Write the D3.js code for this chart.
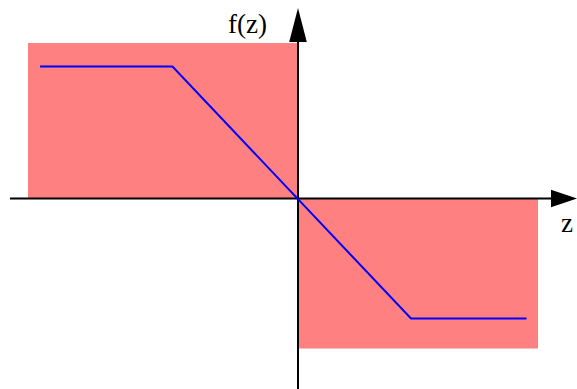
<!DOCTYPE html>
<html>
<head>
<meta charset="utf-8">
<script src="https://cdn.jsdelivr.net/npm/d3@7"></script>
<style>
  html, body { margin: 0; padding: 0; background: #fff; }
  svg { display: block; }
</style>
</head>
<body>
<svg id="chart" width="577" height="389"></svg>
<script>
// Saturating linear function f(z) and its clipping regions
const zKnots = [-25.8, -12.55, 11.3, 22.85];
const fKnots = [13.2, 13.2, -12.0, -12.0];

// Shaded quadrant boxes: [z0, z1, f0, f1]
const boxes = [
  [-27.0, 0, 0, 15.55],
  [0, 24.0, -15.0, 0]
];

// Axis extents and labels
const zAxisExtent = [-28.8, 27.9];
const fAxisExtent = [-19.05, 19.05];
const axisLabels = ["z", "f(z)"];

const width = 577, height = 389;
const svg = d3.select("#chart");

const x = d3.scaleLinear().domain([-28.8, 28.0]).range([10, 578]);
const y = d3.scaleLinear().domain([-19.05, 19.05]).range([389, 8]);

// boxes
svg.selectAll("rect.box")
  .data(boxes)
  .join("rect")
  .attr("class", "box")
  .attr("x", d => x(d[0]))
  .attr("y", d => y(d[3]))
  .attr("width", d => x(d[1]) - x(d[0]))
  .attr("height", d => y(d[2]) - y(d[3]))
  .attr("fill", "#ff8080");

// axes
const arrowLen = 26, arrowHalf = 8.8;
const x0 = x(0), y0 = y(0);
const zTip = x(zAxisExtent[1]);
const fTip = y(fAxisExtent[1]);

svg.append("line")
  .attr("x1", x(zAxisExtent[0])).attr("x2", zTip - arrowLen + 2)
  .attr("y1", y0).attr("y2", y0)
  .attr("stroke", "#000").attr("stroke-width", 2);
svg.append("path")
  .attr("d", d3.line()([[zTip, y0], [zTip - arrowLen, y0 - arrowHalf], [zTip - arrowLen, y0 + arrowHalf]]) + "Z")
  .attr("fill", "#000");

svg.append("line")
  .attr("x1", x0).attr("x2", x0)
  .attr("y1", y(fAxisExtent[0])).attr("y2", fTip + arrowLen - 2)
  .attr("stroke", "#000").attr("stroke-width", 2);
svg.append("path")
  .attr("d", d3.line()([[x0, fTip], [x0 - arrowHalf, fTip + arrowLen + 8], [x0 + arrowHalf, fTip + arrowLen + 8]]) + "Z")
  .attr("fill", "#000");

// function curve
svg.append("path")
  .datum(d3.zip(zKnots, fKnots))
  .attr("d", d3.line().x(d => x(d[0])).y(d => y(d[1])))
  .attr("fill", "none")
  .attr("stroke", "#0000ff")
  .attr("stroke-width", 2);

// labels
const serif = "'Liberation Serif', 'Times New Roman', serif";
svg.append("text")
  .attr("x", 561).attr("y", 232)
  .attr("font-family", serif)
  .attr("font-size", 27)
  .text(axisLabels[0]);
svg.append("text")
  .attr("x", 228).attr("y", 33)
  .attr("font-family", serif)
  .attr("font-size", 27)
  .text(axisLabels[1]);
</script>
</body>
</html>
